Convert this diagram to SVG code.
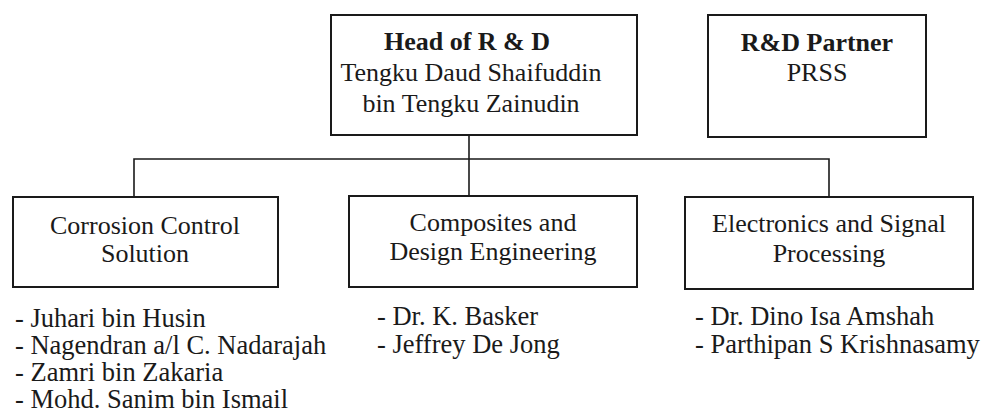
<svg xmlns="http://www.w3.org/2000/svg" width="983" height="418" viewBox="0 0 983 418">
<style>
.box{fill:#fff;stroke:#1a1a1a;stroke-width:2}
.con{fill:none;stroke:#1a1a1a;stroke-width:1.6}
text{font-family:"Liberation Serif","Times New Roman",serif;font-size:26px;fill:#1a1a1a}
.c{text-anchor:middle}
.b{font-weight:bold}
.l{font-size:26.5px}
</style>
<rect width="983" height="418" fill="#fff"/>
<g id="connectors">
<line class="con" x1="469" y1="135" x2="469" y2="196"/>
<polyline class="con" points="134,197 134,159 829,159 829,197"/>
</g>
<g id="head">
<rect class="box" x="331" y="15" width="306" height="120"/>
<text class="c b" x="467" y="50">Head of R &amp; D</text>
<text class="c" x="471" y="81">Tengku Daud Shaifuddin</text>
<text class="c" x="471" y="112">bin Tengku Zainudin</text>
</g>
<g id="partner">
<rect class="box" x="708" y="15" width="218" height="122"/>
<text class="c b" x="817" y="51">R&amp;D Partner</text>
<text class="c" x="817" y="81">PRSS</text>
</g>
<g id="corrosion">
<rect class="box" x="13" y="197" width="265" height="90"/>
<text class="c" x="145" y="234">Corrosion Control</text>
<text class="c" x="145" y="262">Solution</text>
<text class="l" x="15" y="327">- Juhari bin Husin</text>
<text class="l" x="15" y="354">- Nagendran a/l C. Nadarajah</text>
<text class="l" x="15" y="381">- Zamri bin Zakaria</text>
<text class="l" x="15" y="408">- Mohd. Sanim bin Ismail</text>
</g>
<g id="composites">
<rect class="box" x="349" y="196" width="288" height="91"/>
<text class="c" x="493" y="231">Composites and</text>
<text class="c" x="493" y="260">Design Engineering</text>
<text class="l" x="377" y="325">- Dr. K. Basker</text>
<text class="l" x="377" y="353">- Jeffrey De Jong</text>
</g>
<g id="electronics">
<rect class="box" x="685" y="197" width="288" height="92"/>
<text class="c" x="829" y="232">Electronics and Signal</text>
<text class="c" x="829" y="262">Processing</text>
<text class="l" x="695" y="325">- Dr. Dino Isa Amshah</text>
<text class="l" x="695" y="353">- Parthipan S Krishnasamy</text>
</g>
</svg>
